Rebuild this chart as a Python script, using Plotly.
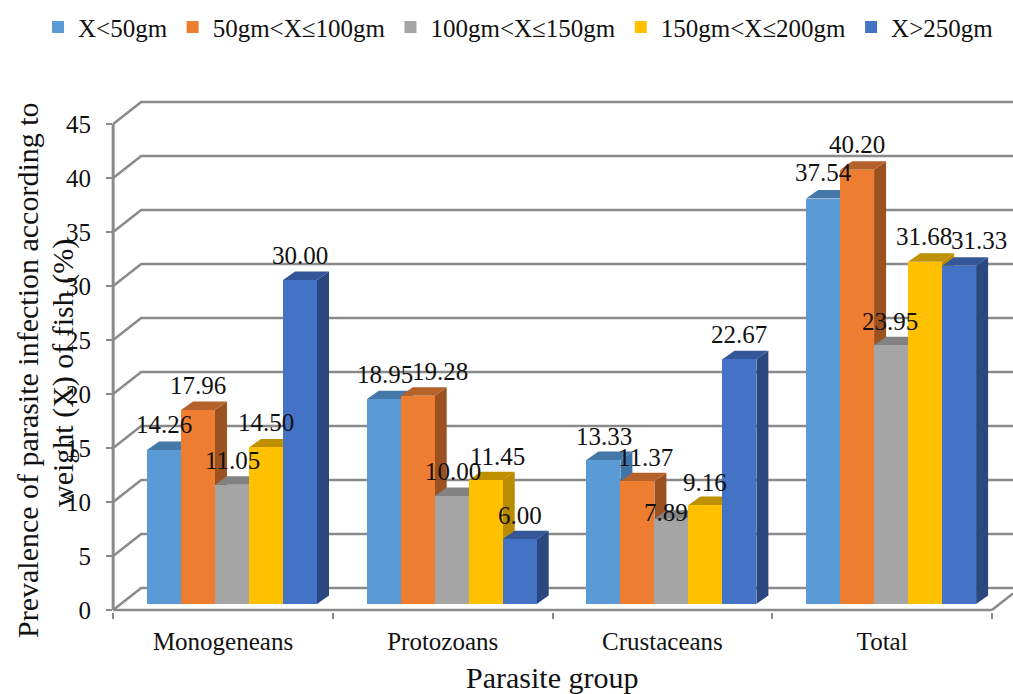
import plotly.graph_objects as go

categories = ["Monogeneans", "Protozoans", "Crustaceans", "Total"]
series_names = ["X<50gm", "50gm<X≤100gm", "100gm<X≤150gm", "150gm<X≤200gm", "X>250gm"]
x_lt_50 = [14.26, 18.95, 13.33, 37.54]
x_50_100 = [17.96, 19.28, 11.37, 40.20]
x_100_150 = [11.05, 10.00, 7.89, 23.95]
x_150_200 = [14.50, 11.45, 9.16, 31.68]
x_gt_250 = [30.00, 6.00, 22.67, 31.33]
y_ticks = [0, 5, 10, 15, 20, 25, 30, 35, 40, 45]

all_values = [x_lt_50, x_50_100, x_100_150, x_150_200, x_gt_250]

front_colors = ["#5B9BD5", "#ED7D31", "#A5A5A5", "#FFC000", "#4472C4"]
top_colors = ["#4478A8", "#B5622A", "#828282", "#BF9000", "#34579A"]
side_colors = ["#3F74A6", "#9C5220", "#757575", "#B98B00", "#2B4780"]

# layout constants (pixels in the 1013x694 page)
PX_X = 219.7
PX_Y = 10.8
L, R, T, B = 0, 1013, 100, 612   # plot area spans the full width so the one-row legend fits
YAXIS_PX = 112
BAR_PX = 34
GROUP_START_PX = -76  # first bar's left edge relative to category centre
BASE = 6 / PX_Y
BAR_W = BAR_PX / PX_X
DEPTH_X = 12 / PX_X
DEPTH_Y = 8.5 / PX_Y
WALL_X = 28 / PX_X
WALL_Y = 22 / PX_Y
xmin = (L - 223) / PX_X
xmax = (R - 223) / PX_X
ymin = -2 / PX_Y
ymax = (610 - T) / PX_Y
FRONT_L = -0.5
FRONT_R = 3.5
AXIS = "#8A8A8A"

# per-label nudges (px) for where the labels sit relative to the bar centre
label_dx = [[0, 1, 1, 0], [0, 22, 8, 0], [0, 1, -5, -1], [0, 12, 0, -1], [0, 0, 0, 20]]
label_dy = [[25, 25, 24, 26], [25, 24, 24, 25], [24, 25, 6, 24], [25, 24, 23, 25], [25, 24, 25, 25]]

SERIF = "Liberation Serif"
INK = "#111111"
fig = go.Figure()
shapes = []


def line(path, color=AXIS, width=2.5):
    shapes.append(dict(type="path", path=path, xref="x", yref="y", layer="below",
                       line=dict(color=color, width=width)))


# back wall and floor
for t in y_ticks:
    line(f"M {FRONT_L} {t} L {FRONT_L + WALL_X} {t + WALL_Y} L {xmax} {t + WALL_Y}")
line(f"M {FRONT_R} 0 L {xmax} {WALL_Y * (xmax - FRONT_R) / WALL_X}")
line(f"M {FRONT_L} 0 L {FRONT_R} 0", width=2.5)
line(f"M {FRONT_L} 0 L {FRONT_L} 45", width=3)

annotations = []
for i, (name, vals) in enumerate(zip(series_names, all_values)):
    off = (GROUP_START_PX + i * BAR_PX) / PX_X
    fig.add_bar(x=list(range(4)), y=vals, base=BASE, name=name, width=BAR_W, offset=off,
                marker=dict(color=front_colors[i], line=dict(width=0)))
    for c, v in enumerate(vals):
        x0, x1 = c + off, c + off + BAR_W
        top = v + BASE
        shapes.append(dict(type="path", xref="x", yref="y", layer="below", fillcolor=side_colors[i],
                           line=dict(width=0),
                           path=f"M {x1} {BASE} L {x1 + DEPTH_X} {BASE + DEPTH_Y} L {x1 + DEPTH_X} {top + DEPTH_Y} L {x1} {top} Z"))
        shapes.append(dict(type="path", xref="x", yref="y", layer="below", fillcolor=top_colors[i],
                           line=dict(width=0),
                           path=f"M {x0} {top} L {x0 + DEPTH_X} {top + DEPTH_Y} L {x1 + DEPTH_X} {top + DEPTH_Y} L {x1} {top} Z"))
        annotations.append(dict(x=(x0 + x1) / 2, y=top, xref="x", yref="y", text=f"{v:.2f}", showarrow=False,
                                xanchor="center", yanchor="middle", xshift=label_dx[i][c], yshift=label_dy[i][c],
                                font=dict(family=SERIF, size=25, color=INK)))

annotations.append(dict(xref="paper", yref="paper", x=(552 - L) / (R - L), y=(B - 677) / (B - T),
                        text="Parasite group", showarrow=False, xanchor="center", yanchor="middle",
                        font=dict(family=SERIF, size=30, color=INK)))
annotations.append(dict(xref="paper", yref="paper", x=(27 - L) / (R - L), y=(B - 370) / (B - T),
                        text="Prevalence of parasite infection according to",
                        showarrow=False, xanchor="center", yanchor="middle", textangle=-90,
                        font=dict(family=SERIF, size=30, color=INK)))
annotations.append(dict(xref="paper", yref="paper", x=(63 - L) / (R - L), y=(B - 373) / (B - T),
                        text="weight (X) of fish (%)",
                        showarrow=False, xanchor="center", yanchor="middle", textangle=-90,
                        font=dict(family=SERIF, size=30, color=INK)))

fig.update_layout(
    width=1013, height=694, autosize=False,
    margin=dict(l=L, r=1013 - R, t=T, b=694 - B, pad=0, autoexpand=False),
    paper_bgcolor="white", plot_bgcolor="white",
    barmode="overlay", bargap=0,
    shapes=shapes, annotations=annotations,
    showlegend=True,
    legend=dict(orientation="h", x=0.0375, xref="paper", xanchor="left", y=0.994, yref="container",
                yanchor="top", font=dict(family=SERIF, size=25, color=INK),
                bgcolor="rgba(0,0,0,0)", itemclick=False, itemdoubleclick=False),
    xaxis=dict(range=[xmin, xmax], tickmode="array", tickvals=list(range(4)), ticktext=categories,
               showgrid=False, zeroline=False, showline=False, ticks="outside", ticklen=7,
               tickcolor="rgba(0,0,0,0)", ticklabelstandoff=0,
               tickfont=dict(family=SERIF, size=25, color=INK),
               minor=dict(tickmode="array", tickvals=[-0.5, 0.5, 1.5, 2.5, 3.5], ticks="outside",
                          ticklen=6, tickwidth=1.5, tickcolor=AXIS, showgrid=False)),
    yaxis=dict(range=[ymin, ymax], tickmode="array", tickvals=y_ticks, showgrid=False, zeroline=False,
               showline=False, ticks="outside", ticklen=6, tickwidth=1.5, tickcolor=AXIS, ticklabelstandoff=10,
               anchor="free", position=YAXIS_PX / 1013,
               tickfont=dict(family=SERIF, size=25, color=INK)),
)

fig.write_html("out.html", config=dict(displayModeBar=False),
               post_script="document.body.style.margin='0';document.body.style.overflow='hidden';")
